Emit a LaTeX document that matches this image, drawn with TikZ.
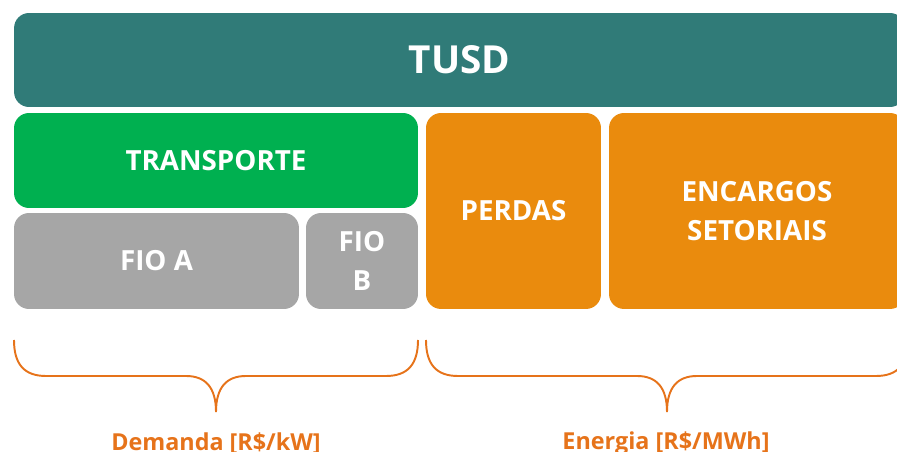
\documentclass[tikz,border=0pt]{standalone}
\usepackage{fontspec}
\setmainfont{Open Sans}
\usepackage{tikz}

\definecolor{tealbox}{HTML}{307B78}
\definecolor{greenbox}{HTML}{00B050}
\definecolor{graybox}{HTML}{A6A6A6}
\definecolor{orangebox}{HTML}{EA8B0D}
\definecolor{orangetxt}{HTML}{E6731A}

\tikzset{
  blk/.style={rectangle, rounded corners=0.3cm, inner sep=0pt, outer sep=0pt,
    text=white, font=\bfseries\fontsize{15.8}{19}\selectfont, align=center},
  brc/.style={draw=orangetxt, line width=1.1pt},
  lbl/.style={text=orangetxt, font=\bfseries\fontsize{13.3}{16}\selectfont}
}

\begin{document}
\begin{tikzpicture}[x=0.02cm, y=-0.02cm]
  \useasboundingbox (0,0) rectangle (897,452);
  \clip (0,0) rectangle (897,452);

  % blocks
  \node[blk, fill=tealbox, minimum width=17.82cm, minimum height=1.88cm,
    font=\bfseries\fontsize{22}{27}\selectfont] (tusd) at (459.5,60) {TUSD};
  \node[blk, fill=greenbox, minimum width=8.08cm, minimum height=1.9cm] (transp) at (216,160.5) {TRANSPORTE};
  \node[blk, fill=graybox, minimum width=5.7cm, minimum height=1.92cm] (fioa) at (156.5,261) {FIO A};
  \node[blk, fill=graybox, minimum width=2.24cm, minimum height=1.92cm] (fiob) at (362,261) {FIO\\[3pt]B};
  \node[blk, fill=orangebox, minimum width=3.5cm, minimum height=3.92cm] (perdas) at (513.5,211) {PERDAS};
  \node[blk, fill=orangebox, minimum width=5.92cm, minimum height=3.92cm] (encarg) at (757,211) {ENCARGOS\\[3pt]SETORIAIS};

  % braces
  \coordinate (dtip) at (216,412);
  \coordinate (etip) at (667,412);
  \draw[brc] (14,340) .. controls (14,364) and (24,376) .. (46,376) -- (186,376)
    .. controls (206,376) and (216,388) .. (dtip)
    .. controls (216,388) and (226,376) .. (246,376) -- (386,376)
    .. controls (408,376) and (418,364) .. (418,340);
  \draw[brc] (426,340) .. controls (426,364) and (436,376) .. (458,376) -- (637,376)
    .. controls (657,376) and (667,388) .. (etip)
    .. controls (667,388) and (677,376) .. (697,376) -- (876,376)
    .. controls (898,376) and (908,364) .. (908,340);

  \node[lbl] (dem) at (216,443) {Demanda [R\$/kW]};
  \node[lbl] (ene) at (666,443) {Energia [R\$/MWh]};
\end{tikzpicture}
\end{document}
